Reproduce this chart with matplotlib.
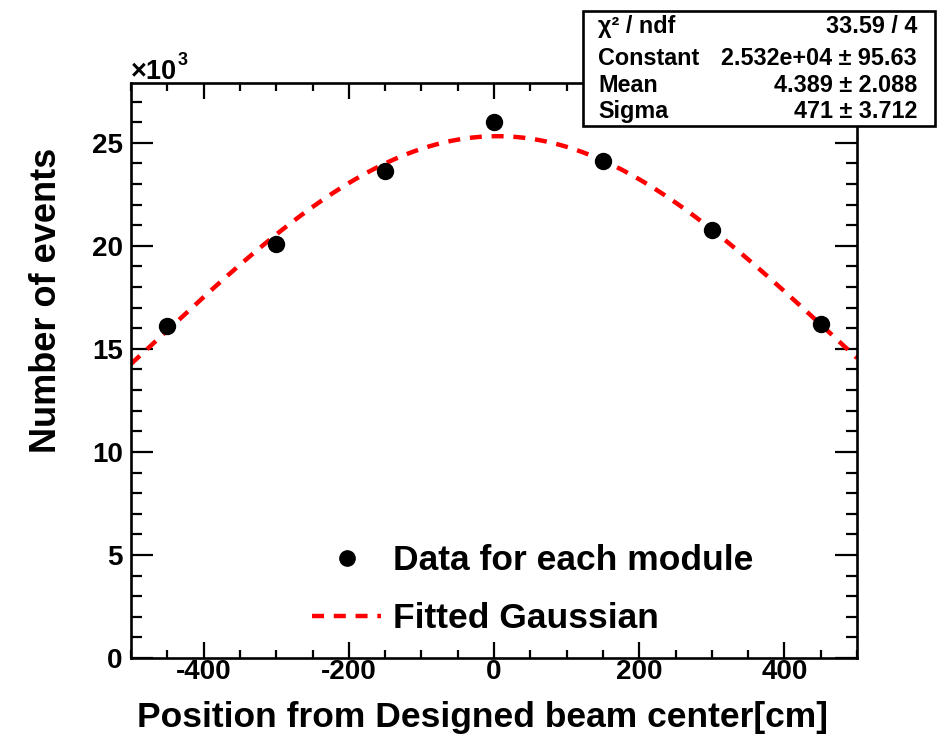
import numpy as np
import matplotlib
matplotlib.use("Agg")
import matplotlib.pyplot as plt
from matplotlib.patches import Rectangle
from matplotlib.lines import Line2D
from matplotlib.ticker import MultipleLocator, FuncFormatter

plt.rcParams['font.family'] = ['Liberation Sans', 'DejaVu Sans']
plt.rcParams['font.weight'] = 'bold'

# Module positions and measured event counts
positions = [-450, -300, -150, 0, 150, 300, 450]
events = [16100, 20090, 23650, 25990, 24130, 20770, 16230]

# Gaussian fit results
fit_constant = 2.532e4
fit_constant_err = 95.63
fit_mean = 4.389
fit_mean_err = 2.088
fit_sigma = 471.0
fit_sigma_err = 3.712
fit_chi2 = 33.59
fit_ndf = 4

W, H = 938, 736
fig = plt.figure(figsize=(W / 100, H / 100), dpi=100)
L, R, T, B = 131, 857, 83, 658
ax = fig.add_axes([L / W, 1 - B / H, (R - L) / W, (B - T) / H])

dash = (0, (2.7, 2.2))
xfit = np.linspace(-500, 500, 500)
yfit = fit_constant * np.exp(-0.5 * ((xfit - fit_mean) / fit_sigma) ** 2)
ax.plot(xfit, yfit, color='#ff0000', lw=3.2, ls=dash, dash_capstyle='butt', zorder=2)
ax.plot(positions, events, 'o', color='black', ms=11.5, zorder=3, linestyle='none')

ax.set_xlim(-500, 500)
ax.set_ylim(0, 27900)

ax.xaxis.set_major_locator(MultipleLocator(200))
ax.xaxis.set_minor_locator(MultipleLocator(50))
ax.yaxis.set_major_locator(MultipleLocator(5000))
ax.yaxis.set_minor_locator(MultipleLocator(1000))
ax.yaxis.set_major_formatter(FuncFormatter(lambda v, p: f"{v / 1000:g}"))
ax.xaxis.set_major_formatter(FuncFormatter(lambda v, p: f"{v:g}".replace('\u2212', '-')))

for s in ax.spines.values():
    s.set_linewidth(1.9)
ax.tick_params(axis='both', which='both', direction='in', top=True, right=True,
               width=1.6, labelsize=20)
ax.tick_params(axis='x', which='major', length=11.5, pad=1)
ax.tick_params(axis='x', which='minor', length=5.8)
ax.tick_params(axis='y', which='major', length=15.5, pad=6)
ax.tick_params(axis='y', which='minor', length=8)
for lab in ax.get_xticklabels() + ax.get_yticklabels():
    lab.set_fontweight('bold')

ax.set_xlabel("Position from Designed beam center[cm]", fontsize=25.5,
              fontweight='bold', loc='right')
ax.xaxis.set_label_coords((828 - L) / (R - L), (B - 717) / (B - T))
ax.xaxis.label.set_va('center')
ax.set_ylabel("Number of events", fontsize=26, fontweight='bold', loc='top')
ax.yaxis.set_label_coords((47 - L) / (R - L), (B - 148) / (B - T))
ax.yaxis.label.set_va('center')

# Exponent marker for the y axis
fig.text(131 / W, 1 - 79 / H, "\u00d710", fontsize=19.5, fontweight='bold',
         ha='left', va='baseline')
fig.text(178 / W, 1 - 65 / H, "3", fontsize=13, fontweight='bold',
         ha='left', va='baseline')

# Legend
handles = [Line2D([], [], marker='o', color='black', ms=11, linestyle='none'),
           Line2D([], [], color='#ff0000', lw=3.2, ls=dash)]
leg = ax.legend(handles, ["Data for each module", "Fitted Gaussian"],
                loc='upper left', bbox_to_anchor=((312 - L) / (R - L), (B - 544) / (B - T)),
                frameon=False, fontsize=25.5, handlelength=1.95, handletextpad=0.33,
                labelspacing=0.72, borderpad=0, borderaxespad=0)
for t in leg.get_texts():
    t.set_fontweight('bold')

# Fit statistics box
bx0, bx1, by0, by1 = 583, 935, 11, 126
fig.add_artist(Rectangle((bx0 / W, 1 - by1 / H), (bx1 - bx0) / W, (by1 - by0) / H,
                         transform=fig.transFigure, facecolor='white',
                         edgecolor='black', lw=1.9, zorder=10))
rows = [
    ("\u03c7\u00b2 / ndf", f"{fit_chi2:.2f} / {fit_ndf}", 33),
    ("Constant", f"{fit_constant:.3e} \u00b1 {fit_constant_err:.2f}", 65),
    ("Mean", f"{fit_mean:.3f} \u00b1 {fit_mean_err:.3f}", 92),
    ("Sigma", f"{fit_sigma:.0f} \u00b1 {fit_sigma_err:.3f}", 118),
]
for name, val, yb in rows:
    fig.text(598 / W, 1 - yb / H, name, fontsize=16.8, fontweight='bold',
             ha='left', va='baseline', zorder=11)
    fig.text(917 / W, 1 - yb / H, val, fontsize=16.8, fontweight='bold',
             ha='right', va='baseline', zorder=11)

fig.savefig("out.png", dpi=100)
